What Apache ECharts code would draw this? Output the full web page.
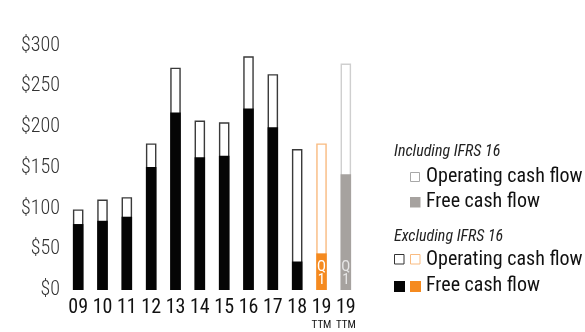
<!DOCTYPE html>
<html><head><meta charset="utf-8">
<script src="https://cdn.jsdelivr.net/npm/echarts@6/dist/echarts.min.js"></script>
<style>html,body{margin:0;padding:0;background:#fff}#c{width:585px;height:332px}</style>
</head><body><div id="c"></div>
<script>
var categories = ['09','10','11','12','13','14','15','16','17','18','19 Q1','19 TTM'];
var tickLabels = ['09','10','11','12','13','14','15','16','17','18','19','19'];
var tickSubLabels = ['','','','','','','','','','','TTM','TTM'];
var operatingCashFlow = [99, 111, 114, 180, 273, 208, 206, 287, 265, 173, 180, 278];
var freeCashFlow = [81, 85, 90, 151, 218, 163, 165, 223, 200, 35, 45, 142];
var barLabels = ['','','','','','','','','','','Q\n1','Q\n1'];
var yTicks = [0, 50, 100, 150, 200, 250, 300];

var ocfBorder = function(i){ return i === 10 ? '#f9bb80' : (i === 11 ? '#cfcfcf' : '#3a3a3a'); };
var fcfFill = function(i){ return i === 10 ? '#f58a1f' : (i === 11 ? '#a6a29f' : '#050505'); };
var qColor = function(i){ return i === 10 ? '#ffffff' : '#e6e6e6'; };

var chart = echarts.init(document.getElementById('c'), null, {renderer:'canvas'});
var font = "'Roboto Condensed'";
function legendText(t, y){ return {type:'text', style:{x:426, y:y, text:t, fontFamily:font, fontSize:20, fill:'#111', verticalAlign:'middle'}}; }
function header(t, y){ return {type:'text', style:{x:394, y:y, text:t, fontFamily:font, fontStyle:'italic', fontSize:16, fill:'#222', verticalAlign:'middle'}}; }
chart.setOption({
  animation: false,
  grid: {left: 66, right: 227, top: 45.7, bottom: 41.3},
  xAxis: {
    type: 'category', data: categories,
    axisLine: {show: false}, axisTick: {show: false},
    axisLabel: {
      interval: 0, margin: 8, fontFamily: font, fontSize: 20, color: '#111', lineHeight: 20,
      formatter: function(v, i){ return tickSubLabels[i] ? tickLabels[i] + '\n{s|' + tickSubLabels[i] + '}' : tickLabels[i]; },
      rich: {s: {fontFamily: font, fontSize: 11, lineHeight: 14, color: '#111'}}
    }
  },
  yAxis: {
    type: 'value', min: yTicks[0], max: yTicks[yTicks.length-1], interval: 50,
    axisLine: {show: false}, axisTick: {show: false}, splitLine: {show: false},
    axisLabel: {margin: 6, fontFamily: font, fontWeight: 300, fontSize: 20, color: '#333', padding: [0,0,4,0],
      formatter: function(v){ return '$' + v; }}
  },
  series: [
    {
      type: 'bar', name: 'Operating cash flow', barWidth: 10.5, barGap: '-100%',
      data: operatingCashFlow.map(function(v, i){
        return {value: v, itemStyle: {color: '#fff', borderColor: ocfBorder(i), borderWidth: 1.4}};
      })
    },
    {
      type: 'bar', name: 'Free cash flow', barWidth: 10.5, barGap: '-100%',
      data: freeCashFlow.map(function(v, i){
        return {value: v, itemStyle: {color: fcfFill(i)},
          label: {show: !!barLabels[i], position: 'insideBottom', distance: 3, formatter: barLabels[i],
            fontFamily: font, fontSize: 15, lineHeight: 13.5, color: qColor(i)}};
      })
    }
  ],
  graphic: [
    header('Including IFRS 16', 152),
    {type: 'rect', shape: {x: 410.5, y: 172.5, width: 9, height: 9}, style: {fill: '#fff', stroke: '#a8a8a8', lineWidth: 1}},
    legendText('Operating cash flow', 177),
    {type: 'rect', shape: {x: 410, y: 197, width: 10.5, height: 10.5}, style: {fill: '#a6a29f'}},
    legendText('Free cash flow', 202),
    header('Excluding IFRS 16', 237),
    {type: 'rect', shape: {x: 394.5, y: 254.5, width: 9.5, height: 9.5}, style: {fill: '#fff', stroke: '#333', lineWidth: 1}},
    {type: 'rect', shape: {x: 410.5, y: 254.5, width: 9.5, height: 9.5}, style: {fill: '#fff', stroke: '#f9bb80', lineWidth: 1}},
    legendText('Operating cash flow', 259.5),
    {type: 'rect', shape: {x: 394, y: 281, width: 11, height: 11}, style: {fill: '#050505'}},
    {type: 'rect', shape: {x: 410, y: 281, width: 11, height: 11}, style: {fill: '#f58a1f'}},
    legendText('Free cash flow', 285.5)
  ]
});
</script></body></html>
